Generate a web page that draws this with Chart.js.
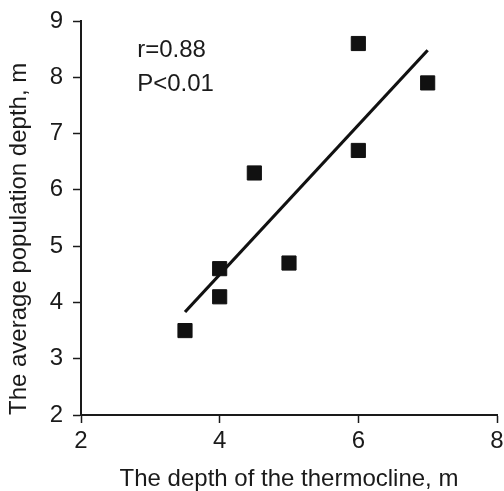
<!DOCTYPE html>
<html>
<head>
<meta charset="utf-8">
<script src="https://cdn.jsdelivr.net/npm/chart.js@4"></script>
<style>
  html, body { margin: 0; background: #fff; overflow: hidden; }
  #wrap { width: 504px; height: 491px; overflow: hidden; }
</style>
</head>
<body>
<!-- canvas a bit wider than the window so the right end of the x axis sits at the edge like the original -->
<div id="wrap"><canvas id="depthChart" width="508" height="491"></canvas></div>
<script>
// observed points: thermocline depth vs average population depth
const thermocline = [3.5, 4.0, 4.0, 4.5, 5.0, 6.0, 6.0, 7.0];
const popDepth    = [3.5, 4.6, 4.1, 6.3, 4.7, 8.6, 6.7, 7.9];

// fitted line, ends
const fitX = [3.5, 7.0];
const fitY = [3.83, 8.48];

const xTicks = [2, 4, 6, 8];
const yTicks = [2, 3, 4, 5, 6, 7, 8, 9];

const statLines = ['r=0.88', 'P<0.01'];

const FONT = '"Liberation Sans", Arial, sans-serif';
const INK = '#1a1a1a';

// put the r / P text in the upper left corner
const statsText = {
  id: 'statsText',
  afterDatasetsDraw(chart) {
    const {ctx, scales} = chart;
    const x = scales.x.getPixelForValue(2.81);
    const y0 = scales.y.getPixelForValue(8.36);
    ctx.save();
    ctx.font = '24px ' + FONT;
    ctx.fillStyle = INK;
    ctx.textAlign = 'left';
    ctx.textBaseline = 'alphabetic';
    statLines.forEach((t, i) => ctx.fillText(t, x, y0 + i * 34));
    ctx.restore();
  }
};

const points = thermocline.map((v, i) => ({x: v, y: popDepth[i]}));
const fitLine = fitX.map((v, i) => ({x: v, y: fitY[i]}));

const config = {
  type: 'scatter',
  data: {
    datasets: [
      {
        data: points,
        pointStyle: 'rect',
        pointRadius: 10,
        backgroundColor: '#111',
        borderColor: '#111',
        borderWidth: 1
      },
      {
        type: 'line',
        data: fitLine,
        borderColor: '#111',
        borderWidth: 3.2,
        pointRadius: 0,
        fill: false
      }
    ]
  },
  options: {
    responsive: false,
    animation: false,
    devicePixelRatio: 1,
    layout: { padding: { top: 21, right: 0, bottom: 0, left: 0 } },
    plugins: { legend: { display: false }, tooltip: { enabled: false } },
    scales: {
      x: {
        type: 'linear',
        min: 2, max: 8,
        afterBuildTicks: s => { s.ticks = xTicks.map(v => ({value: v})); },
        afterFit: s => { s.height = 76; s.paddingLeft = 0; s.paddingRight = 0; },
        grid: { drawOnChartArea: false, drawTicks: true, tickLength: 8, tickColor: INK, tickWidth: 1.5 },
        border: { display: true, color: INK, width: 2 },
        ticks: { color: INK, padding: 4, font: { family: FONT, size: 24 } },
        title: {
          display: true,
          text: 'The depth of the thermocline, m',
          color: INK,
          padding: { top: 0, bottom: 0 },
          font: { family: FONT, size: 24, lineHeight: 1 }
        }
      },
      y: {
        type: 'linear',
        min: 2, max: 9,
        afterBuildTicks: s => { s.ticks = yTicks.map(v => ({value: v})); },
        afterFit: s => { s.width = 81; s.paddingTop = 0; s.paddingBottom = 0; },
        grid: { drawOnChartArea: false, drawTicks: true, tickLength: 8, tickColor: INK, tickWidth: 1.5 },
        border: { display: true, color: INK, width: 2 },
        ticks: { color: INK, padding: 10, font: { family: FONT, size: 24 } },
        title: {
          display: true,
          text: 'The average population depth, m',
          align: 'start',
          color: INK,
          padding: { top: 5, bottom: 0 },
          font: { family: FONT, size: 24, lineHeight: 1.2 }
        }
      }
    }
  },
  plugins: [statsText]
};

const depthChart = new Chart(document.getElementById('depthChart'), config);
</script>
</body>
</html>
